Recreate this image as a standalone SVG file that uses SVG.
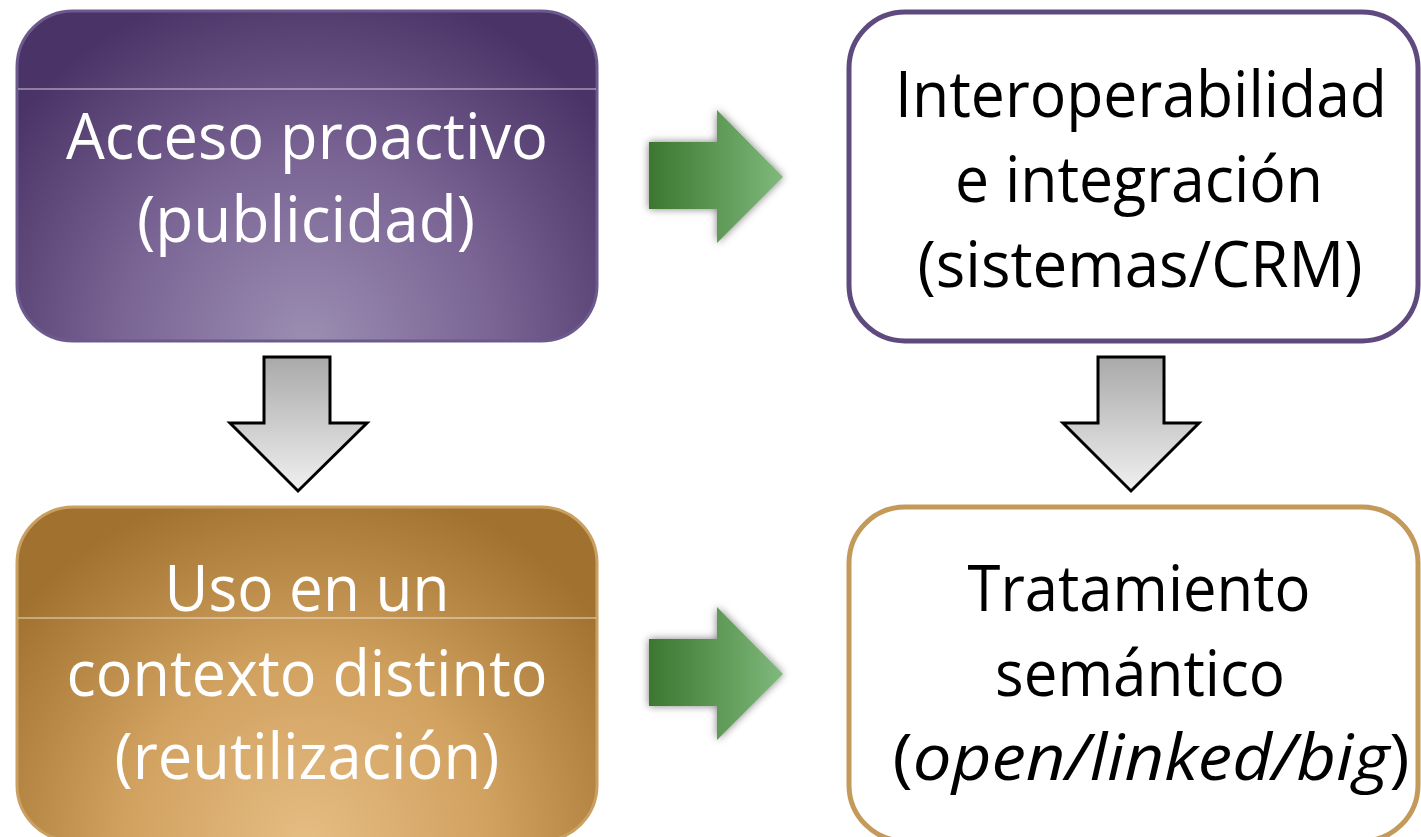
<svg xmlns="http://www.w3.org/2000/svg" width="1421" height="837" viewBox="0 0 1421 837">
<defs>
<radialGradient id="gPurple" gradientUnits="userSpaceOnUse" cx="307" cy="345" r="370" fx="307" fy="345">
<stop offset="0" stop-color="#9c8eb2"/>
<stop offset="0.5" stop-color="#7a6595"/>
<stop offset="1" stop-color="#4a3366"/>
</radialGradient>
<radialGradient id="gGold" gradientUnits="userSpaceOnUse" cx="307" cy="845" r="370" fx="307" fy="845">
<stop offset="0" stop-color="#e6bd84"/>
<stop offset="0.5" stop-color="#d1a15f"/>
<stop offset="1" stop-color="#a1722f"/>
</radialGradient>
<linearGradient id="gGreen" x1="0" y1="0" x2="1" y2="0">
<stop offset="0" stop-color="#3c772f"/>
<stop offset="1" stop-color="#7fb97c"/>
</linearGradient>
<linearGradient id="gGray" x1="0" y1="0" x2="0" y2="1">
<stop offset="0" stop-color="#a9a9a9"/>
<stop offset="1" stop-color="#f0f0f0"/>
</linearGradient>
<filter id="shadow" x="-30%" y="-30%" width="160%" height="160%">
<feGaussianBlur in="SourceAlpha" stdDeviation="4"/>
<feComponentTransfer><feFuncA type="linear" slope="0.5"/></feComponentTransfer>
<feMerge><feMergeNode/><feMergeNode in="SourceGraphic"/></feMerge>
</filter>
</defs>
<style>
.lbl{font-family:"Open Sans","Liberation Sans",sans-serif;font-size:64px;text-anchor:middle}
.w{fill:#ffffff}
.k{fill:#000000}
.div{stroke:#ffffff;stroke-opacity:0.75;stroke-width:1.2}
.garrow{fill:url(#gGreen);filter:url(#shadow)}
.darrow{fill:url(#gGray);stroke:#000;stroke-width:3;stroke-linejoin:miter}
</style>
<g id="node-acceso">
<rect x="17" y="11" width="580" height="330" rx="56" ry="56" fill="url(#gPurple)" stroke="#6c5a8e" stroke-width="3"/>
<line class="div" x1="18" y1="89" x2="596" y2="89"/>
<text class="lbl w" x="307" y="159" textLength="482" lengthAdjust="spacingAndGlyphs">Acceso proactivo</text>
<text class="lbl w" x="306" y="242" textLength="338" lengthAdjust="spacingAndGlyphs">(publicidad)</text>
</g>
<g id="node-interop">
<rect x="849" y="12" width="569" height="329" rx="56" ry="56" fill="#ffffff" stroke="#5e4a7e" stroke-width="5"/>
<text class="lbl k" x="1141" y="117" textLength="492" lengthAdjust="spacingAndGlyphs">Interoperabilidad</text>
<text class="lbl k" x="1139" y="202" textLength="368" lengthAdjust="spacingAndGlyphs">e integración</text>
<text class="lbl k" x="1140" y="287" textLength="445" lengthAdjust="spacingAndGlyphs">(sistemas/CRM)</text>
</g>
<g id="node-uso">
<rect x="17" y="507" width="580" height="334" rx="56" ry="56" fill="url(#gGold)" stroke="#c9a060" stroke-width="3"/>
<line class="div" x1="18" y1="618" x2="596" y2="618"/>
<text class="lbl w" x="307" y="611" textLength="285" lengthAdjust="spacingAndGlyphs">Uso en un</text>
<text class="lbl w" x="307" y="696" textLength="481" lengthAdjust="spacingAndGlyphs">contexto distinto</text>
<text class="lbl w" x="307" y="779" textLength="385" lengthAdjust="spacingAndGlyphs">(reutilización)</text>
</g>
<g id="node-tratamiento">
<rect x="849" y="507" width="569" height="334" rx="56" ry="56" fill="#ffffff" stroke="#c49a5a" stroke-width="5"/>
<text class="lbl k" x="1139" y="611" textLength="343" lengthAdjust="spacingAndGlyphs">Tratamiento</text>
<text class="lbl k" x="1140" y="696" textLength="290" lengthAdjust="spacingAndGlyphs">semántico</text>
<text class="lbl k" x="1151" y="780" textLength="517" lengthAdjust="spacingAndGlyphs">(<tspan font-style="italic">open/linked/big</tspan>)</text>
</g>
<g id="connectors">
<path class="garrow" d="M649,142 L717,142 L717,110 L783,177 L717,243 L717,209 L649,209 Z"/>
<path class="garrow" d="M649,639 L717,639 L717,607 L783,674 L717,740 L717,706 L649,706 Z"/>
<path class="darrow" d="M264,357 L330,357 L330,423 L367,423 L298,491 L230,423 L264,423 Z"/>
<path class="darrow" d="M1098,357 L1164,357 L1164,423 L1199,423 L1131,491 L1063,423 L1098,423 Z"/>
</g>
</svg>
